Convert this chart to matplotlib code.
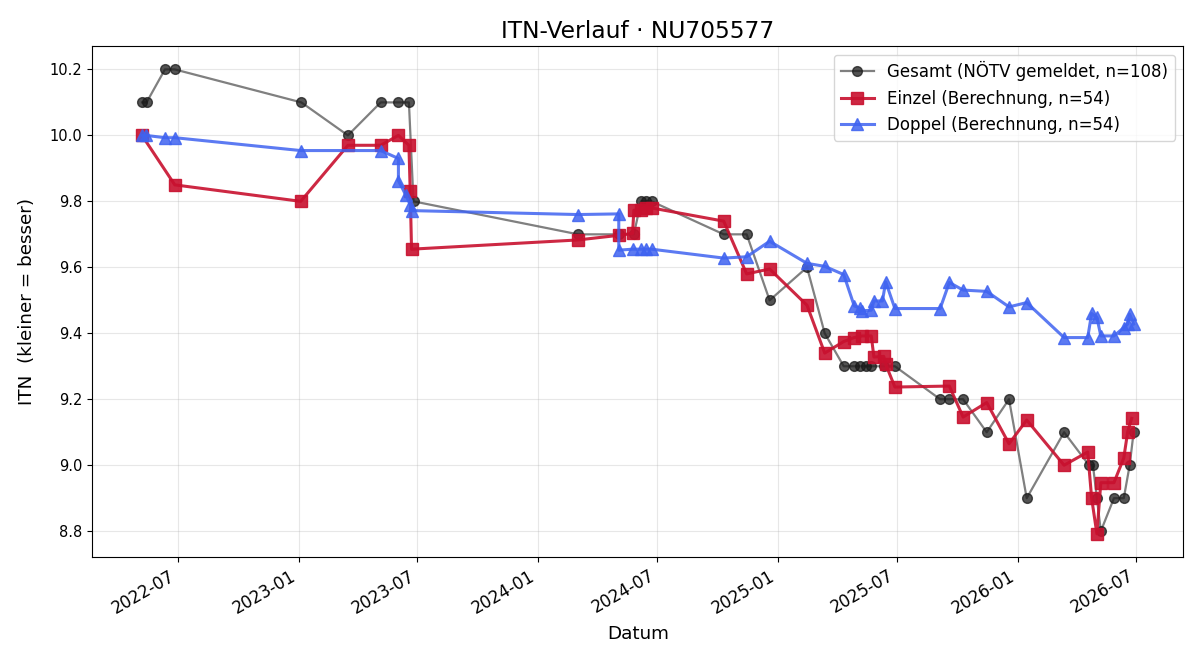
import pandas as pd
import matplotlib.pyplot as plt
import matplotlib.dates as mdates

# Gesamt (NÖTV gemeldet)
gesamt_dates = [
    '2022-05-07', '2022-05-14', '2022-06-11', '2022-06-26', '2023-01-05',
    '2023-03-17', '2023-05-06', '2023-06-02', '2023-06-18', '2023-06-25',
    '2024-03-02', '2024-05-03', '2024-05-26', '2024-06-06', '2024-06-14',
    '2024-06-22', '2024-10-10', '2024-11-14', '2024-12-19', '2025-02-14',
    '2025-03-13', '2025-04-11', '2025-04-27', '2025-05-06', '2025-05-15',
    '2025-05-23', '2025-06-11', '2025-06-28', '2025-09-05', '2025-09-19',
    '2025-10-10', '2025-11-15', '2025-12-19', '2026-01-15', '2026-03-13',
    '2026-04-20', '2026-04-26', '2026-05-02', '2026-05-08', '2026-05-28',
    '2026-06-12', '2026-06-21', '2026-06-27',
]
gesamt_itn = [
    10.1, 10.1, 10.2, 10.2, 10.1,
    10.0, 10.1, 10.1, 10.1, 9.8,
    9.7, 9.7, 9.7, 9.8, 9.8,
    9.8, 9.7, 9.7, 9.5, 9.6,
    9.4, 9.3, 9.3, 9.3, 9.3,
    9.3, 9.3, 9.3, 9.2, 9.2,
    9.2, 9.1, 9.2, 8.9, 9.1,
    9.0, 9.0, 8.9, 8.8, 8.9,
    8.9, 9.0, 9.1,
]

# Einzel (Berechnung)
einzel_dates = [
    '2022-05-07', '2022-06-26', '2023-01-04', '2023-03-17', '2023-05-06',
    '2023-06-02', '2023-06-18', '2023-06-20', '2023-06-22', '2024-03-02',
    '2024-05-03', '2024-05-24', '2024-05-26', '2024-06-06', '2024-06-14',
    '2024-06-22', '2024-10-10', '2024-11-14', '2024-12-19', '2025-02-14',
    '2025-03-13', '2025-04-11', '2025-04-27', '2025-05-09', '2025-05-23',
    '2025-05-27', '2025-06-11', '2025-06-14', '2025-06-28', '2025-09-19',
    '2025-10-10', '2025-11-15', '2025-12-19', '2026-01-15', '2026-03-13',
    '2026-04-18', '2026-04-24', '2026-05-02', '2026-05-08', '2026-05-28',
    '2026-06-12', '2026-06-18', '2026-06-24',
]
einzel_itn = [
    10.0, 9.85, 9.80, 9.97, 9.97,
    10.0, 9.97, 9.83, 9.655, 9.683,
    9.697, 9.703, 9.773, 9.775, 9.78,
    9.78, 9.74, 9.58, 9.595, 9.485,
    9.34, 9.375, 9.387, 9.392, 9.392,
    9.328, 9.33, 9.306, 9.237, 9.24,
    9.146, 9.19, 9.065, 9.137, 9.0,
    9.04, 8.90, 8.792, 8.947, 8.947,
    9.022, 9.102, 9.142,
]

# Doppel (Berechnung)
doppel_dates = [
    '2022-05-07', '2022-05-13', '2022-06-11', '2022-06-26', '2023-01-04',
    '2023-05-06', '2023-06-02', '2023-06-02', '2023-06-13', '2023-06-20',
    '2023-06-22', '2024-03-02', '2024-05-03', '2024-05-03', '2024-05-24',
    '2024-06-06', '2024-06-14', '2024-06-22', '2024-10-10', '2024-11-14',
    '2024-12-19', '2025-02-14', '2025-03-13', '2025-04-11', '2025-04-27',
    '2025-05-06', '2025-05-09', '2025-05-23', '2025-05-27', '2025-06-09',
    '2025-06-14', '2025-06-28', '2025-09-05', '2025-09-19', '2025-10-10',
    '2025-11-15', '2025-12-19', '2026-01-15', '2026-03-13', '2026-04-18',
    '2026-04-24', '2026-05-02', '2026-05-08', '2026-05-28', '2026-06-12',
    '2026-06-18', '2026-06-21', '2026-06-27',
]
doppel_itn = [
    10.0, 10.0, 9.993, 9.993, 9.954,
    9.954, 9.93, 9.863, 9.82, 9.79,
    9.772, 9.76, 9.762, 9.652, 9.655,
    9.655, 9.655, 9.655, 9.628, 9.632,
    9.679, 9.612, 9.603, 9.578, 9.483,
    9.476, 9.468, 9.47, 9.498, 9.498,
    9.556, 9.475, 9.475, 9.554, 9.531,
    9.527, 9.48, 9.493, 9.387, 9.387,
    9.46, 9.448, 9.392, 9.392, 9.417,
    9.428, 9.458, 9.428,
]


def main():
    fig, ax = plt.subplots(figsize=(12, 6.6), dpi=100)

    ax.plot(pd.to_datetime(gesamt_dates), gesamt_itn, marker='o', markersize=7,
            color='#555555', mfc='#1a1a1a', mec='#1a1a1a', linewidth=1.6, alpha=0.75,
            label='Gesamt (NÖTV gemeldet, n=108)')
    ax.plot(pd.to_datetime(einzel_dates), einzel_itn, marker='s', markersize=8.5,
            color='#c8102e', linewidth=2.2, alpha=0.9,
            label='Einzel (Berechnung, n=54)')
    ax.plot(pd.to_datetime(doppel_dates), doppel_itn, marker='^', markersize=8,
            color='#3f63f0', linewidth=2.2, alpha=0.85,
            label='Doppel (Berechnung, n=54)')

    ax.set_title('ITN-Verlauf · NU705577', fontsize=16.8)
    ax.set_xlabel('Datum', fontsize=13.2, labelpad=6)
    ax.set_ylabel('ITN  (kleiner = besser)', fontsize=13.2, labelpad=10)
    ax.grid(True, alpha=0.3)
    ax.legend(loc='upper right', fontsize=12)

    ax.xaxis.set_major_locator(mdates.MonthLocator(bymonth=[1, 7]))
    ax.xaxis.set_major_formatter(mdates.DateFormatter('%Y-%m'))
    ax.tick_params(axis='x', labelsize=12)
    ax.tick_params(axis='y', labelsize=10.5)
    fig.autofmt_xdate()

    fig.subplots_adjust(left=0.077, right=0.986, top=0.930, bottom=0.156)
    fig.savefig('out.png', dpi=100)


if __name__ == '__main__':
    main()
